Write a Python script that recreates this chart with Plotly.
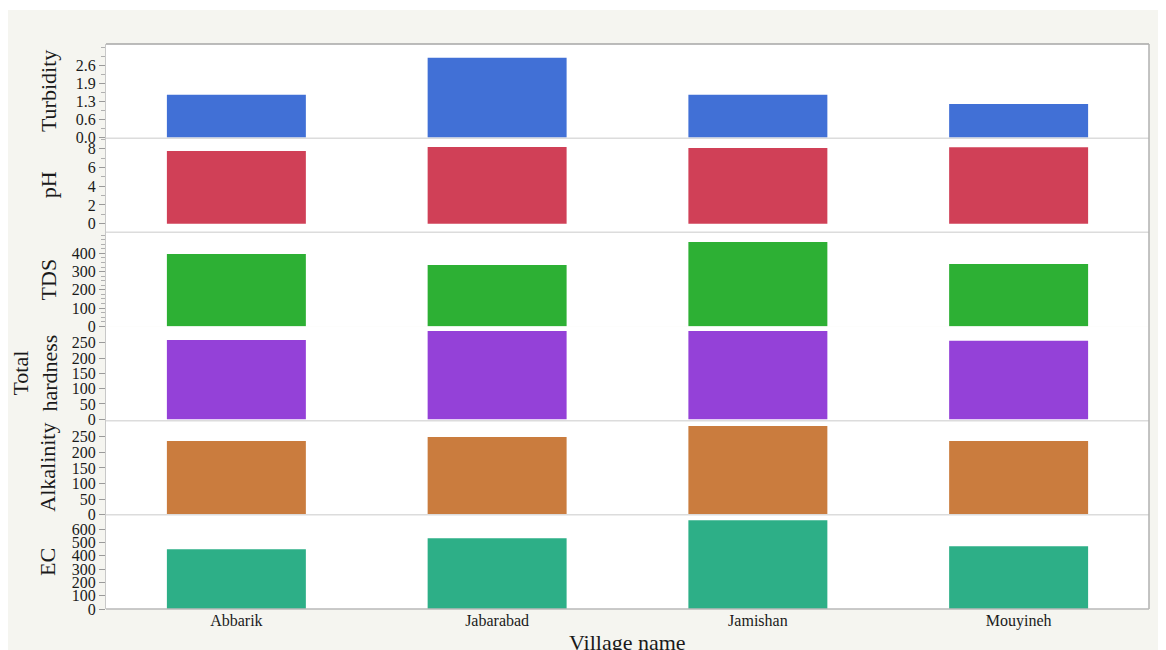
import plotly.graph_objects as go
from plotly.subplots import make_subplots

# Water quality parameters per village
villages = ["Abbarik", "Jabarabad", "Jamishan", "Mouyineh"]
turbidity = [1.55, 2.89, 1.55, 1.22]
ph = [7.75, 8.18, 8.07, 8.15]
tds = [396, 336, 462, 341]
total_hardness = [259, 288, 288, 256]
alkalinity = [236, 249, 284, 236]
ec = [450, 532, 668, 472]

turb_tickvals = [0, 0.65, 1.3, 1.95, 2.6]
turb_ticktext = ["0.0", "0.6", "1.3", "1.9", "2.6"]

W, H = 1166, 650
ML, MR, MT, MB = 106, 17, 44, 41
PW, PH = W - ML - MR, H - MT - MB

FONT = "Liberation Serif, Times New Roman, serif"
TXT = "#1a1a1a"

panels = [
    dict(title="Turbidity", values=turbidity, color="#4170D6", rng=[-0.02, 3.39],
         tickvals=turb_tickvals, ticktext=turb_ticktext, minor=0.325, tx=48),
    dict(title="pH", values=ph, color="#D04057", rng=[-0.92, 9.12],
         tickvals=[0, 2, 4, 6, 8], ticktext=None, minor=1, tx=48),
    dict(title="TDS", values=tds, color="#2DB034", rng=[-1, 515],
         tickvals=[0, 100, 200, 300, 400], ticktext=None, minor=25, tx=48),
    dict(title="Total<br>hardness", values=total_hardness, color="#9441D8", rng=[-4.5, 302.9],
         tickvals=[0, 50, 100, 150, 200, 250], ticktext=None, minor=None, tx=35),
    dict(title="Alkalinity", values=alkalinity, color="#CA7C3E", rng=[0, 301],
         tickvals=[0, 50, 100, 150, 200, 250], ticktext=None, minor=None, tx=48),
    dict(title="EC", values=ec, color="#2DAF87", rng=[0, 709],
         tickvals=[0, 100, 200, 300, 400, 500, 600], ticktext=None, minor=None, tx=48),
]

n = len(panels)
fig = make_subplots(rows=n, cols=1, shared_xaxes=True, vertical_spacing=0)

for i, p in enumerate(panels, start=1):
    fig.add_trace(
        go.Bar(x=villages, y=p["values"], marker=dict(color=p["color"], line=dict(width=0)),
               showlegend=False, hoverinfo="x+y"),
        row=i, col=1,
    )
    yax = dict(
        range=p["rng"], tickmode="array", tickvals=p["tickvals"],
        ticks="outside", ticklen=6, tickcolor="#9a9a9a", tickwidth=1,
        showgrid=False, zeroline=False, showline=True, linecolor="#c8c8c8", linewidth=1,
        tickfont=dict(family=FONT, size=16, color=TXT), fixedrange=True,
    )
    if p["ticktext"] is not None:
        yax["ticktext"] = p["ticktext"]
    if p["minor"] is not None:
        yax["minor"] = dict(dtick=p["minor"], tick0=0, ticks="outside", ticklen=4,
                            tickcolor="#b0b0b0", showgrid=False)
    fig.update_yaxes(row=i, col=1, **yax)
    fig.update_xaxes(row=i, col=1, range=[-0.5, 3.5], showgrid=False, zeroline=False,
                     showline=False, ticks="", showticklabels=(i == n),
                     tickfont=dict(family=FONT, size=16, color=TXT), fixedrange=True)

    # rotated axis title
    yname = "y" if i == 1 else f"y{i}"
    fig.add_annotation(
        text=p["title"], textangle=-90, xref="paper", yref=f"{yname} domain",
        x=(p["tx"] - ML) / PW, y=0.5, xanchor="center", yanchor="middle", showarrow=False,
        font=dict(family=FONT, size=22, color=TXT), align="center",
    )

fig.add_annotation(
    text="Village name", xref="paper", yref="paper", x=0.5, y=(0 - 33) / PH,
    xanchor="center", yanchor="middle", showarrow=False,
    font=dict(family=FONT, size=22, color=TXT),
)

shapes = []


def px_x(v):
    return (v - ML) / PW


def px_y(v):
    return (H - MB - v) / PH


# white strips framing the panel background
for x0, y0, x1, y1 in [(0, 0, 8, H), (0, 0, W, 10), (1158, 0, W, H)]:
    shapes.append(dict(type="rect", xref="paper", yref="paper",
                       x0=px_x(x0), x1=px_x(x1), y0=px_y(y0), y1=px_y(y1),
                       fillcolor="white", line=dict(width=0), layer="above"))

# separators between panels (none between TDS and hardness)
for k in [1, 2, 4, 5]:
    yk = 1 - k / n
    shapes.append(dict(type="line", xref="paper", yref="paper", x0=0, x1=1, y0=yk, y1=yk,
                       line=dict(color="#dcdcdc", width=1.5), layer="above"))
# outer frame
shapes.append(dict(type="line", xref="paper", yref="paper", x0=0, x1=1, y0=1, y1=1,
                   line=dict(color="#a6a6a6", width=1.5)))
shapes.append(dict(type="line", xref="paper", yref="paper", x0=1, x1=1, y0=0, y1=1,
                   line=dict(color="#b0b0b0", width=1.5)))
shapes.append(dict(type="line", xref="paper", yref="paper", x0=0, x1=1, y0=0, y1=0,
                   line=dict(color="#b8b8b8", width=1.5)))

fig.update_layout(
    width=W, height=H,
    margin=dict(l=ML, r=MR, t=MT, b=MB),
    paper_bgcolor="#f5f5f0", plot_bgcolor="white",
    bargap=0.467, shapes=shapes, showlegend=False,
    font=dict(family=FONT, color=TXT),
)

fig.write_html("out.html")
